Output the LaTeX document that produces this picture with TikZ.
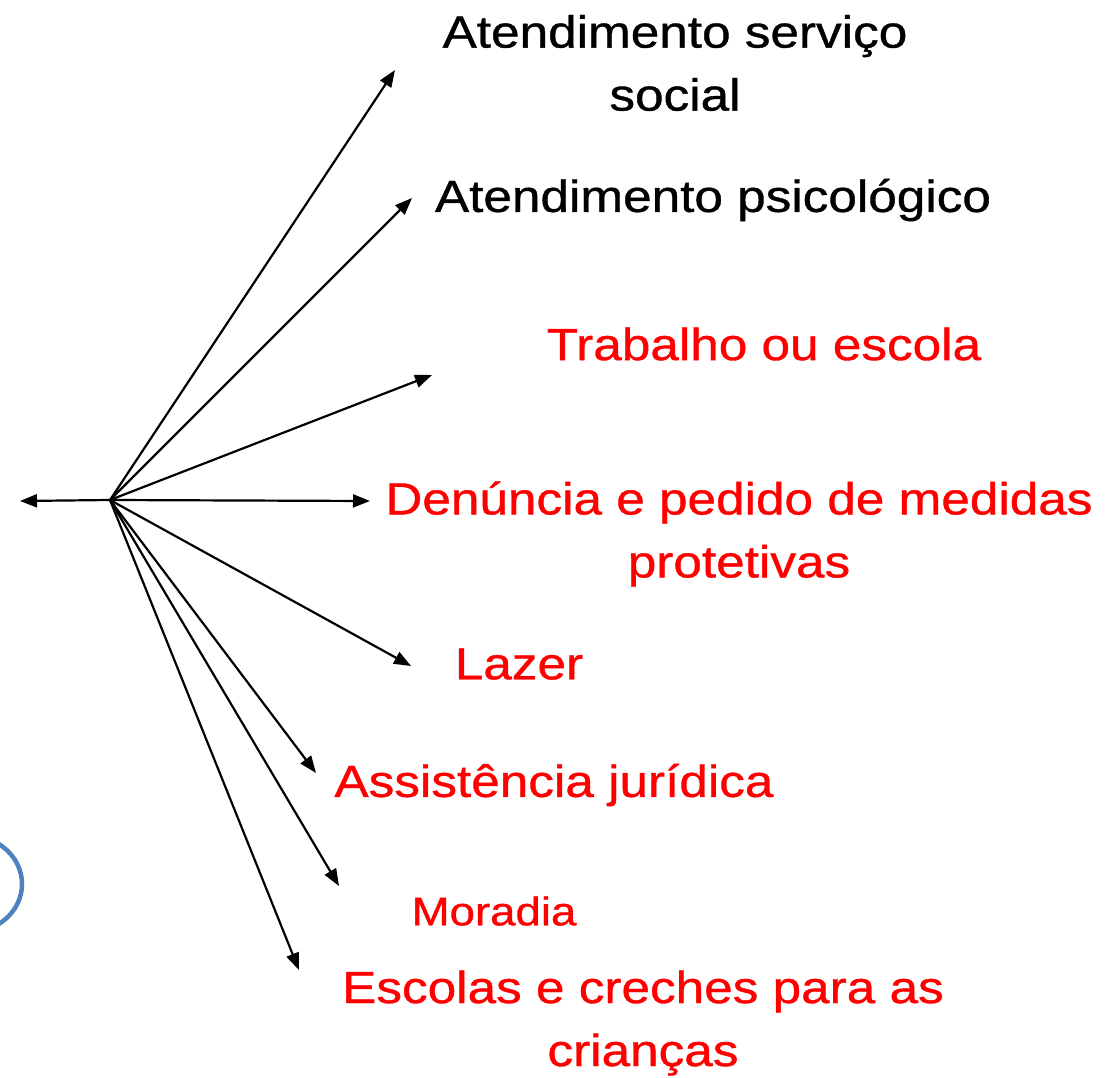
\documentclass[tikz,border=0pt]{standalone}
\usepackage{fontspec}
\setmainfont[FakeStretch=1.14,FakeBold=0.8]{Liberation Sans}
\usetikzlibrary{arrows.meta}
\definecolor{arcblue}{HTML}{4F81BD}
\tikzset{
  conn/.style={draw=black, line width=2.2pt, -{Triangle[length=17pt,width=13pt]}},
  lbl/.style={inner sep=0pt, font=\fontsize{45}{63}\selectfont, align=center},
  blk/.style={lbl, text=black},
  rd/.style={lbl, text=red},
}
\begin{document}
\begin{tikzpicture}[x=1pt,y=-1pt]
\useasboundingbox (0,0) rectangle (1105,1078);
\coordinate (hub) at (110,500);
\coordinate (L) at (20,501);
\coordinate (e1) at (395,70);
\coordinate (e2) at (412,198);
\coordinate (e3) at (432,375);
\coordinate (e4) at (370,501);
\coordinate (e5) at (411,666);
\coordinate (e6) at (316,773);
\coordinate (e7) at (339,886);
\coordinate (e8) at (299,970);
\foreach \e in {L,e1,e2,e3,e4,e5,e6,e7,e8} \draw[conn] (hub) -- (\e);
\node[blk] (t1) at (675,63) {Atendimento serviço\\social};
\node[blk] (t2) at (713,200) {Atendimento psicológico};
\node[rd] (t3) at (764,344) {Trabalho ou escola};
\node[rd] (t4) at (739,534) {Denúncia e pedido de medidas\\protetivas};
\node[rd] (t5) at (519,664) {Lazer};
\node[rd] (t6) at (554,785) {Assistência jurídica};
\node[rd, font=\fontsize{40}{48}\selectfont] (t7) at (494,911) {Moradia};
\node[rd] (t8) at (643,1023) {Escolas e creches para as\\crianças};
\begin{scope}
\clip (0,0) rectangle (1105,1078);
\draw[arcblue, line width=4.5pt] (-30,884) ellipse [x radius=52, y radius=48];
\end{scope}
\end{tikzpicture}
\end{document}
